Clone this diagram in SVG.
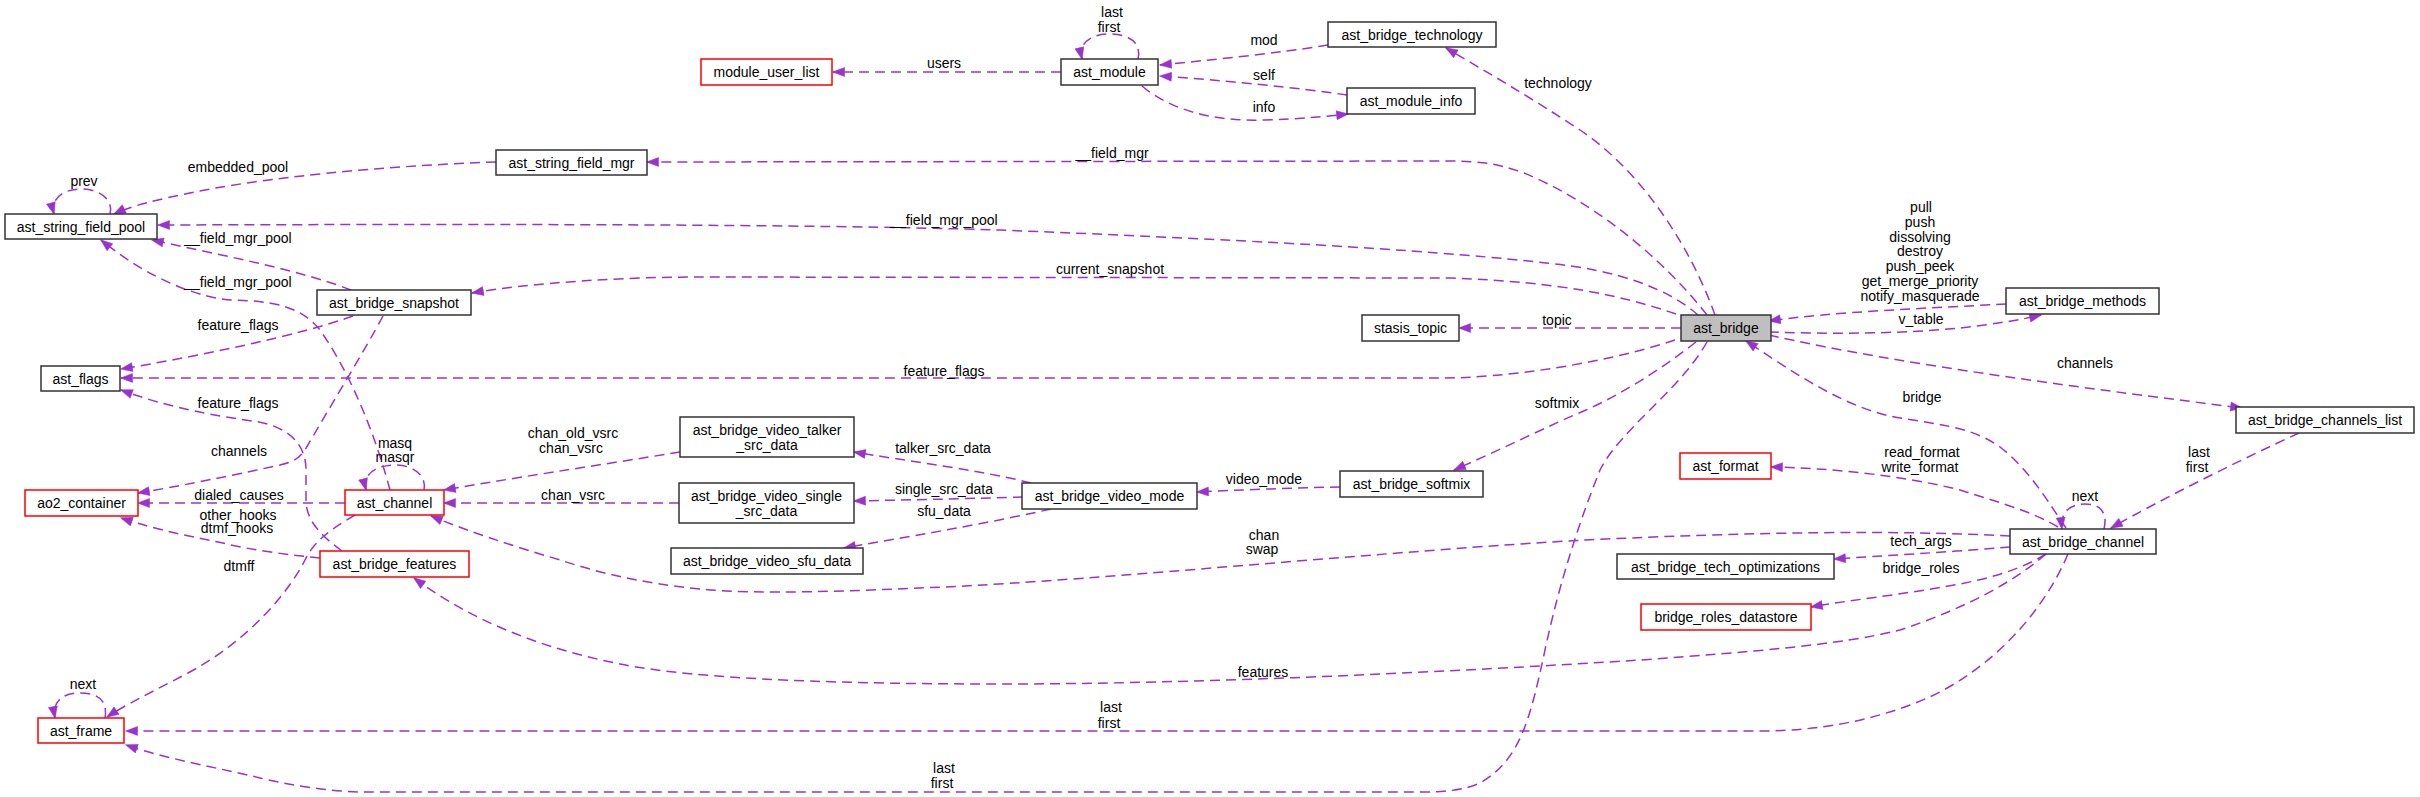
<svg xmlns="http://www.w3.org/2000/svg" width="2420" height="797" viewBox="0 0 2420 797">
<style>
.n rect{fill:#fff;stroke:#333;stroke-width:1.5}
.n.r rect{stroke:#ff0000}
.n.g rect{fill:#bfbfbf}
text{font-family:"Liberation Sans",Arial,sans-serif;font-size:14px;fill:#000;text-anchor:middle}
.e path{fill:none;stroke:#9a32cd;stroke-width:1.5;stroke-dasharray:10,6;marker-end:url(#a)}
</style>
<defs>
<marker id="a" markerUnits="userSpaceOnUse" markerWidth="13" markerHeight="10" viewBox="0 0 12 10" refX="11.5" refY="5" orient="auto">
<path d="M0,0.5 L12,5 L0,9.5 z" fill="#9a32cd" stroke="#9a32cd" stroke-width="0.5"/>
</marker>
</defs>
<rect width="2420" height="797" fill="#fff"/>
<g id="connectors" class="e">
<path d="M1138,59 C1142,42 1128,34 1110,34 C1092,34 1078,42 1082,59"/>
<path d="M1061,72 L833,72"/>
<path d="M1328,45 C1280,53 1210,60 1160,65"/>
<path d="M1347,95 C1300,88 1220,80 1160,76"/>
<path d="M1142,86 C1170,110 1215,122 1265,120 C1300,119 1330,116 1348,114"/>
<path d="M1715,315 C1690,245 1640,170 1580,130 C1530,97 1480,68 1446,48"/>
<path d="M1707,315 C1660,255 1590,200 1524,173 C1500,164 1480,161 1450,161 L647,162"/>
<path d="M496,162 C380,166 260,178 190,193 C160,199 130,206 114,214"/>
<path d="M110,214 C114,200 100,189 81,189 C62,189 50,200 54,214"/>
<path d="M1698,315 C1670,290 1620,270 1546,263 C1450,252 1300,242 1000,230 C800,224 500,224 158,225"/>
<path d="M351,290 C300,270 220,255 152,240"/>
<path d="M390,490 C378,445 355,380 320,330 C300,305 270,301 232,300 C200,298 150,280 101,240"/>
<path d="M1676,314 C1620,295 1560,282 1450,278 L700,277 C620,277 530,283 472,293"/>
<path d="M353,316 C300,335 200,356 121,369"/>
<path d="M1675,340 C1600,365 1500,378 1443,378 L121,378"/>
<path d="M342,551 C320,535 306,520 306,500 L306,470 C306,445 290,428 259,422 C240,419 180,412 121,390"/>
<path d="M383,316 C365,350 325,415 305,450 C298,460 292,462 280,465 C230,476 180,486 138,493"/>
<path d="M345,503 L138,503"/>
<path d="M320,558 C290,555 250,550 223,543 C190,536 160,531 121,518"/>
<path d="M424,490 C427,477 415,465 395,465 C375,465 362,475 366,490"/>
<path d="M680,452 C600,465 500,480 444,490"/>
<path d="M679,503 L444,503"/>
<path d="M2010,536 C1900,530 1750,532 1586,540 C1400,550 1100,580 944,587 C850,591 760,595 700,589 C640,583 600,573 560,560 C510,545 470,532 431,516"/>
<path d="M355,515 C330,530 315,540 305,560 C290,590 250,640 188,673 C150,693 125,705 107,717"/>
<path d="M105,718 C108,700 98,693 80,693 C62,693 52,702 55,718"/>
<path d="M2068,554 C2040,620 1980,680 1910,705 C1870,720 1820,731 1760,731 L126,731"/>
<path d="M1707,342 C1680,390 1620,430 1600,470 C1580,520 1560,580 1545,650 C1530,720 1520,760 1480,783 C1465,790 1445,792 1420,792 L365,792 C330,792 290,785 260,778 C220,768 170,760 126,745"/>
<path d="M2046,554 C2010,585 1960,610 1900,630 C1840,645 1750,652 1640,660 C1450,672 1200,684 1000,684 C850,684 700,680 620,664 C540,648 470,620 414,578"/>
<path d="M1681,328 L1459,328"/>
<path d="M2006,304 C1930,308 1830,312 1769,321"/>
<path d="M1769,332 C1830,334 1900,334 1960,328 C1995,324 2020,320 2041,315"/>
<path d="M1769,335 C1900,365 2100,390 2242,408"/>
<path d="M2299,433 C2240,460 2160,500 2111,528"/>
<path d="M2104,529 C2108,512 2100,504 2085,504 C2070,504 2060,512 2062,529"/>
<path d="M2066,528 C2050,505 2030,470 2000,447 C1970,425 1930,424 1890,416 C1840,405 1790,370 1746,341"/>
<path d="M2058,527 C2030,510 1990,500 1960,490 C1900,475 1830,468 1771,467"/>
<path d="M2010,547 C1950,552 1880,556 1834,559"/>
<path d="M2046,554 C2020,570 1990,578 1960,584 C1900,595 1850,600 1811,607"/>
<path d="M1696,342 C1660,370 1620,395 1586,410 C1550,425 1500,450 1454,470"/>
<path d="M1340,487 C1290,488 1240,490 1197,492"/>
<path d="M1031,483 C980,470 900,460 854,452"/>
<path d="M1023,497 C960,499 900,500 854,501"/>
<path d="M1051,509 C980,525 900,538 844,548"/>
</g>
<g id="edge-labels">
<text x="1112" y="17">last</text><text x="1109" y="32">first</text>
<text x="944" y="68">users</text>
<text x="1264" y="45">mod</text>
<text x="1264" y="80">self</text>
<text x="1264" y="112">info</text>
<text x="1558" y="88">technology</text>
<text x="1112" y="158">__field_mgr</text>
<text x="238" y="172">embedded_pool</text>
<text x="84" y="186">prev</text>
<text x="944" y="225">__field_mgr_pool</text>
<text x="238" y="243">__field_mgr_pool</text>
<text x="238" y="287">__field_mgr_pool</text>
<text x="1110" y="274">current_snapshot</text>
<text x="238" y="330">feature_flags</text>
<text x="944" y="376">feature_flags</text>
<text x="238" y="408">feature_flags</text>
<text x="239" y="456">channels</text>
<text x="239" y="500">dialed_causes</text>
<text x="238" y="520">other_hooks</text><text x="237" y="533">dtmf_hooks</text>
<text x="395" y="448">masq</text><text x="395" y="462">masqr</text>
<text x="573" y="438">chan_old_vsrc</text><text x="571" y="453">chan_vsrc</text>
<text x="573" y="500">chan_vsrc</text>
<text x="1264" y="540">chan</text><text x="1262" y="554">swap</text>
<text x="239" y="571">dtmff</text>
<text x="83" y="689">next</text>
<text x="1111" y="712">last</text><text x="1109" y="728">first</text>
<text x="944" y="773">last</text><text x="942" y="788">first</text>
<text x="1263" y="677">features</text>
<text x="1557" y="325">topic</text>
<text x="1921" y="212">pull</text>
<text x="1920" y="227">push</text>
<text x="1920" y="242">dissolving</text>
<text x="1920" y="256">destroy</text>
<text x="1920" y="271">push_peek</text>
<text x="1920" y="286">get_merge_priority</text>
<text x="1920" y="301">notify_masquerade</text>
<text x="1921" y="324">v_table</text>
<text x="2085" y="368">channels</text>
<text x="2199" y="457">last</text><text x="2197" y="472">first</text>
<text x="2085" y="501">next</text>
<text x="1922" y="402">bridge</text>
<text x="1922" y="457">read_format</text><text x="1920" y="472">write_format</text>
<text x="1921" y="546">tech_args</text>
<text x="1921" y="573">bridge_roles</text>
<text x="1557" y="408">softmix</text>
<text x="1264" y="484">video_mode</text>
<text x="943" y="453">talker_src_data</text>
<text x="944" y="494">single_src_data</text>
<text x="944" y="516">sfu_data</text>
</g>
<g id="ast_bridge_technology" class="n"><rect x="1328" y="22" width="168" height="25"/><text x="1412" y="39.5">ast_bridge_technology</text></g>
<g id="module_user_list" class="n r"><rect x="701" y="59" width="131" height="26"/><text x="766.5" y="77">module_user_list</text></g>
<g id="ast_module" class="n"><rect x="1061" y="59" width="97" height="26"/><text x="1109.5" y="77">ast_module</text></g>
<g id="ast_module_info" class="n"><rect x="1347" y="88" width="128" height="26"/><text x="1411" y="106">ast_module_info</text></g>
<g id="ast_string_field_mgr" class="n"><rect x="496" y="150" width="151" height="25"/><text x="571.5" y="167.5">ast_string_field_mgr</text></g>
<g id="ast_string_field_pool" class="n"><rect x="5" y="214" width="152" height="25"/><text x="81" y="231.5">ast_string_field_pool</text></g>
<g id="ast_bridge_snapshot" class="n"><rect x="317" y="290" width="154" height="25"/><text x="394" y="307.5">ast_bridge_snapshot</text></g>
<g id="stasis_topic" class="n"><rect x="1362" y="315" width="97" height="26"/><text x="1410.5" y="333">stasis_topic</text></g>
<g id="ast_bridge" class="n g"><rect x="1681" y="315" width="90" height="26"/><text x="1726" y="333">ast_bridge</text></g>
<g id="ast_bridge_methods" class="n"><rect x="2006" y="288" width="153" height="26"/><text x="2082.5" y="306">ast_bridge_methods</text></g>
<g id="ast_flags" class="n"><rect x="41" y="366" width="79" height="25"/><text x="80.5" y="383.5">ast_flags</text></g>
<g id="ast_bridge_channels_list" class="n"><rect x="2236" y="407" width="178" height="26"/><text x="2325" y="425">ast_bridge_channels_list</text></g>
<g id="ast_bridge_video_talker_src_data" class="n"><rect x="680" y="417" width="174" height="40"/><text x="767" y="434.5">ast_bridge_video_talker</text><text x="767" y="449.5">_src_data</text></g>
<g id="ao2_container" class="n r"><rect x="25" y="490" width="113" height="26"/><text x="81.5" y="508">ao2_container</text></g>
<g id="ast_channel" class="n r"><rect x="345" y="490" width="99" height="25"/><text x="394.5" y="507.5">ast_channel</text></g>
<g id="ast_bridge_video_single_src_data" class="n"><rect x="679" y="483" width="175" height="40"/><text x="766.5" y="500.5">ast_bridge_video_single</text><text x="766.5" y="515.5">_src_data</text></g>
<g id="ast_bridge_video_mode" class="n"><rect x="1022" y="483" width="175" height="26"/><text x="1109.5" y="501">ast_bridge_video_mode</text></g>
<g id="ast_bridge_softmix" class="n"><rect x="1340" y="471" width="143" height="26"/><text x="1411.5" y="489">ast_bridge_softmix</text></g>
<g id="ast_format" class="n r"><rect x="1680" y="453" width="91" height="26"/><text x="1725.5" y="471">ast_format</text></g>
<g id="ast_bridge_channel" class="n"><rect x="2010" y="529" width="146" height="25"/><text x="2083" y="546.5">ast_bridge_channel</text></g>
<g id="ast_bridge_video_sfu_data" class="n"><rect x="671" y="548" width="192" height="26"/><text x="767" y="566">ast_bridge_video_sfu_data</text></g>
<g id="ast_bridge_features" class="n r"><rect x="320" y="551" width="149" height="26"/><text x="394.5" y="569">ast_bridge_features</text></g>
<g id="ast_bridge_tech_optimizations" class="n"><rect x="1617" y="554" width="217" height="25"/><text x="1725.5" y="571.5">ast_bridge_tech_optimizations</text></g>
<g id="bridge_roles_datastore" class="n r"><rect x="1641" y="604" width="170" height="26"/><text x="1726" y="622">bridge_roles_datastore</text></g>
<g id="ast_frame" class="n r"><rect x="38" y="718" width="86" height="25"/><text x="81" y="735.5">ast_frame</text></g>
</svg>
